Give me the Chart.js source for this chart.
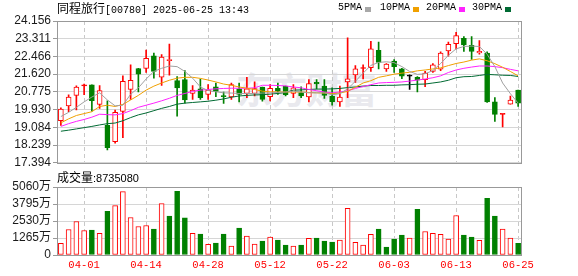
<!DOCTYPE html>
<html>
<head>
<meta charset="utf-8">
<script src="https://cdn.jsdelivr.net/npm/chart.js@4.4.0/dist/chart.umd.min.js"></script>
<style>
  html, body { margin: 0; padding: 0; background: #fff; }
  #wrap { position: relative; width: 578px; height: 276px; overflow: hidden; }
  .t { position: absolute; white-space: nowrap; color: #000; }
  .cjk { font-family: "Noto Sans CJK SC", sans-serif; font-size: 12px; }
  .mono { font-family: "Liberation Mono", monospace; font-size: 10px; }
  .sq { position: absolute; width: 6px; height: 5px; }
  .wm { position: absolute; left: 236px; top: 70px; font: bold 36px "Noto Sans CJK SC", sans-serif;
        line-height: 36px; color: #e9e9ee; letter-spacing: -1px; white-space: nowrap; }
  canvas { position: absolute; left: 0; }
</style>
</head>
<body>
<div id="wrap">
  <div class="wm">东方财富</div>
  <canvas id="kChart" width="578" height="172" style="top:0"></canvas>
  <canvas id="volChart" width="578" height="104" style="top:172px"></canvas>

  <div class="t" style="left:57px;top:0;line-height:16px"><span class="cjk">同程旅行</span><span class="mono">[00780] 2025-06-25 13:43</span></div>

  <div class="t mono" style="left:338px;top:1px;line-height:14px">5PMA</div>
  <div class="sq" style="left:365px;top:7px;background:#a8a8a8"></div>
  <div class="t mono" style="left:380px;top:1px;line-height:14px">10PMA</div>
  <div class="sq" style="left:413px;top:7px;background:#f0a000"></div>
  <div class="t mono" style="left:426px;top:1px;line-height:14px">20PMA</div>
  <div class="sq" style="left:459px;top:7px;background:#ff22ff"></div>
  <div class="t mono" style="left:472px;top:1px;line-height:14px">30PMA</div>
  <div class="sq" style="left:505px;top:7px;background:#006a33"></div>

  <div class="t" style="left:57px;top:169px;line-height:16px"><span class="cjk">成交量</span><span style="font:11px 'Liberation Sans',sans-serif">:8735080</span></div>
</div>

<script>
const dates = ["03-27","03-28","03-31","04-01","04-02","04-03","04-07","04-08","04-09","04-10",
  "04-11","04-14","04-15","04-16","04-17","04-22","04-23","04-24","04-25","04-28",
  "04-29","04-30","05-02","05-06","05-07","05-08","05-09","05-12","05-13","05-14",
  "05-15","05-16","05-19","05-20","05-21","05-22","05-23","05-26","05-27","05-28",
  "05-29","05-30","06-02","06-03","06-04","06-05","06-06","06-09","06-10","06-11",
  "06-12","06-13","06-16","06-17","06-18","06-19","06-20","06-23","06-24","06-25"];
const xLabels = ["04-01","04-14","04-28","05-12","05-22","06-03","06-13","06-25"];

const opens = [19.40,20.11,20.61,21.06,21.11,20.18,19.18,18.40,19.85,20.89,
  21.89,21.90,22.49,21.48,22.27,21.31,21.36,20.70,20.92,20.66,
  21.02,20.58,20.53,20.92,20.70,20.70,21.00,20.55,20.95,21.05,
  20.70,20.74,20.53,21.23,21.05,20.58,20.30,21.25,21.59,21.89,
  21.93,22.76,21.87,22.24,21.87,21.53,21.47,21.36,21.75,21.86,
  22.73,23.07,23.33,22.99,22.63,22.63,20.30,19.70,20.19,20.86];
const highs = [20.02,20.64,21.06,21.15,21.11,21.08,20.35,19.91,21.54,22.06,
  21.90,22.77,22.63,22.55,23.05,21.51,21.79,21.08,21.39,21.12,
  21.20,20.77,21.20,21.20,21.47,21.26,21.00,21.12,21.20,21.05,
  21.12,21.02,21.36,21.36,21.36,20.97,21.05,23.35,22.03,22.06,
  23.19,23.15,22.13,22.32,21.90,21.59,21.51,21.75,22.13,22.68,
  23.15,23.61,23.41,23.41,23.22,22.68,20.50,19.72,20.58,20.86];
const lows = [19.18,19.83,19.91,20.64,19.86,19.99,18.01,18.33,18.59,20.42,
  20.77,21.70,21.43,21.08,21.57,19.62,20.24,20.42,20.42,20.42,
  20.55,20.22,20.42,20.30,20.50,20.58,20.33,20.35,20.66,20.58,
  20.50,20.50,20.30,20.92,20.46,20.14,20.08,20.50,21.23,21.39,
  21.75,21.87,21.75,21.70,21.40,20.89,20.78,21.02,21.70,21.79,
  22.48,22.83,22.71,22.32,22.57,20.27,19.37,19.10,20.19,20.08];
const closes = [19.96,20.53,21.00,21.08,20.36,20.84,18.12,19.80,21.28,21.33,
  21.62,22.38,21.75,22.43,22.32,20.97,20.39,20.86,20.50,20.86,
  20.80,20.55,21.12,20.66,20.92,20.93,20.42,20.94,20.81,20.64,
  20.97,20.58,21.17,21.15,20.61,20.30,20.53,21.40,21.87,21.92,
  22.83,22.18,22.10,21.98,21.53,21.53,21.33,21.67,22.06,22.63,
  23.04,23.46,23.02,22.70,22.71,20.30,19.70,19.72,20.38,20.24];

const ma5 = [19.60,19.80,20.04,20.30,20.53,20.73,20.39,20.11,20.14,20.66,
  20.97,21.39,21.75,21.90,22.01,21.98,21.75,21.43,21.01,20.84,
  20.78,20.73,20.72,20.70,20.70,20.70,20.72,20.73,20.75,20.77,
  20.81,20.77,20.73,20.73,20.73,20.64,20.69,20.92,21.28,21.67,
  22.04,22.18,22.21,22.17,21.98,21.75,21.61,21.64,21.79,22.13,
  22.52,22.83,22.94,22.96,22.94,22.57,21.98,21.20,20.69,20.24];
const ma10 = [19.30,19.49,19.65,19.74,19.83,20.08,20.14,20.08,20.18,20.39,
  20.61,20.86,21.05,21.20,21.33,21.43,21.47,21.47,21.42,21.34,
  21.25,21.15,21.09,21.01,20.95,20.89,20.81,20.78,20.77,20.77,
  20.77,20.77,20.75,20.73,20.72,20.69,20.72,20.80,21.00,21.20,
  21.31,21.47,21.54,21.62,21.67,21.71,21.78,21.82,21.87,21.92,
  22.03,22.13,22.20,22.29,22.35,22.26,22.12,21.95,21.75,21.54];
const ma20 = [19.13,19.26,19.37,19.46,19.57,19.71,19.69,19.68,19.74,19.88,
  20.04,20.14,20.24,20.35,20.47,20.61,20.70,20.80,20.86,20.89,
  20.92,20.94,20.95,20.95,20.95,20.97,21.09,21.09,21.08,21.06,
  21.01,20.97,20.89,20.83,20.77,20.73,20.77,20.83,20.94,21.03,
  21.12,21.20,21.22,21.23,21.25,21.29,21.34,21.39,21.45,21.54,
  21.70,21.82,21.90,21.96,22.01,22.01,21.98,21.93,21.85,21.78];
const ma30 = [18.90,18.95,19.01,19.07,19.13,19.20,19.26,19.29,19.40,19.55,
  19.68,19.77,19.88,19.99,20.08,20.19,20.24,20.27,20.30,20.33,
  20.38,20.44,20.52,20.58,20.61,20.63,20.64,20.67,20.70,20.75,
  20.86,20.87,20.89,20.91,20.91,20.92,20.94,20.98,21.01,21.05,
  21.08,21.08,21.09,21.09,21.11,21.12,21.14,21.15,21.20,21.25,
  21.33,21.45,21.50,21.51,21.56,21.61,21.59,21.57,21.56,21.51];

// volume in 万 shares
const volumes = [864,1900,2493,1826,1851,1604,3258,3677,4714,2789,
  2122,2197,1925,3825,2888,4739,2764,1604,1555,790,
  888,1555,666,1999,1407,814,1037,1333,1111,740,
  666,740,1234,1259,1037,963,1111,3480,938,740,
  1530,1925,592,1185,1481,1259,3406,1752,1604,1530,
  1185,2937,1481,1333,1086,4220,2888,1925,1259,873.5];

const priceTickLabels = ["24.156","23.311","22.466","21.620","20.775","19.930","19.084","18.239","17.394"];
const volTicks = [0, 1265, 2530, 3795, 5060];

const RED = "#ff0000";
const GREEN = "#008000";
const GRID = "#d6d6d6";
const FRAME = "#999999";

function candleColor(i) {
  const o = opens[i], c = closes[i];
  if (c > o) return RED;
  if (c < o) return GREEN;
  const p = i > 0 ? closes[i - 1] : o;
  return c > p ? RED : (c < p ? GREEN : "#000000");
}
function bodyFill(i) {
  const col = candleColor(i);
  if (col === RED && closes[i] - opens[i] > 0.04) return "#ffffff";
  return col;
}
function volUp(i) {
  const p = i > 0 ? closes[i - 1] : opens[i];
  return closes[i] >= p;
}

const frame = {
  id: "frame",
  afterDraw(chart) {
    const a = chart.chartArea, ctx = chart.ctx;
    ctx.save();
    ctx.strokeStyle = FRAME;
    ctx.lineWidth = 1;
    ctx.strokeRect(Math.round(a.left) + 0.5, Math.round(a.top) + 0.5,
      Math.round(a.right - a.left) - 1, Math.round(a.bottom - a.top));
    ctx.restore();
  }
};

const xGrid = {
  display: true,
  offset: false,
  drawTicks: false,
  color: (ctx) => xLabels.includes(dates[ctx.index]) ? "#c8c8c8" : "rgba(0,0,0,0)",
  lineWidth: 1
};

const maLine = (data, color) => ({
  type: "line",
  data: data,
  borderColor: color,
  borderWidth: 1,
  pointRadius: 0,
  tension: 0,
  order: 0
});

new Chart(document.getElementById("kChart"), {
  type: "bar",
  data: {
    labels: dates,
    datasets: [
      maLine(ma5, "#a0a0a0"),
      maLine(ma10, "#f0a000"),
      maLine(ma20, "#ff22ff"),
      maLine(ma30, "#006a33"),
      {
        data: opens.map((o, i) => [o, closes[i]]),
        backgroundColor: (ctx) => bodyFill(ctx.dataIndex),
        borderColor: (ctx) => candleColor(ctx.dataIndex),
        borderWidth: 1,
        borderSkipped: false,
        minBarLength: 1,
        barThickness: 5,
        grouped: false,
        order: 1
      },
      {
        data: lows.map((l, i) => [l, highs[i]]),
        backgroundColor: (ctx) => candleColor(ctx.dataIndex),
        borderWidth: 0,
        barThickness: 1,
        grouped: false,
        order: 2
      }
    ]
  },
  options: {
    responsive: false,
    animation: false,
    devicePixelRatio: 1,
    layout: { padding: { top: 21, right: 56, bottom: 6, left: 0 } },
    plugins: { legend: { display: false }, tooltip: { enabled: false } },
    scales: {
      x: {
        offset: true,
        grid: xGrid,
        border: { display: false, dash: [4, 3] },
        ticks: { display: false, autoSkip: false }
      },
      y: {
        min: 17.394,
        max: 24.156,
        afterBuildTicks: (scale) => {
          scale.ticks = priceTickLabels.map((s) => ({ value: parseFloat(s) })).reverse();
        },
        afterFit: (scale) => { scale.width = 57; },
        grid: { color: GRID, tickColor: FRAME, tickLength: 4 },
        border: { display: false },
        ticks: {
          autoSkip: false,
          padding: 2,
          color: "#1a1a1a",
          font: { family: "'Liberation Sans', sans-serif", size: 12 },
          callback: (v) => priceTickLabels.find((s) => Math.abs(parseFloat(s) - v) < 1e-6) || ""
        }
      }
    }
  },
  plugins: [frame]
});

new Chart(document.getElementById("volChart"), {
  type: "bar",
  data: {
    labels: dates,
    datasets: [{
      data: volumes,
      backgroundColor: (ctx) => volUp(ctx.dataIndex) ? "#ffffff" : GREEN,
      borderColor: (ctx) => volUp(ctx.dataIndex) ? RED : GREEN,
      borderWidth: 1,
      borderSkipped: false,
      barThickness: 5
    }]
  },
  options: {
    responsive: false,
    animation: false,
    devicePixelRatio: 1,
    layout: { padding: { top: 15, right: 56, bottom: 0, left: 0 } },
    plugins: { legend: { display: false }, tooltip: { enabled: false } },
    scales: {
      x: {
        offset: true,
        grid: xGrid,
        border: { display: false, dash: [4, 3] },
        afterFit: (scale) => { scale.height = 21; },
        ticks: {
          autoSkip: false,
          maxRotation: 0,
          padding: 4,
          color: RED,
          font: { family: "'Liberation Mono', monospace", size: 10.5 },
          callback: function (value) {
            const lab = this.getLabelForValue(value);
            return xLabels.includes(lab) ? lab : "";
          }
        }
      },
      y: {
        min: 0,
        max: 5060,
        afterBuildTicks: (scale) => {
          scale.ticks = volTicks.map((v) => ({ value: v }));
        },
        afterFit: (scale) => { scale.width = 57; },
        grid: { color: GRID, tickColor: FRAME, tickLength: 4 },
        border: { display: false },
        ticks: {
          autoSkip: false,
          padding: 2,
          color: "#1a1a1a",
          font: { family: "'Liberation Sans', 'Noto Sans CJK SC', sans-serif", size: 12 },
          callback: (v) => v === 0 ? "0" : v + "万"
        }
      }
    }
  },
  plugins: [frame]
});
</script>
</body>
</html>
